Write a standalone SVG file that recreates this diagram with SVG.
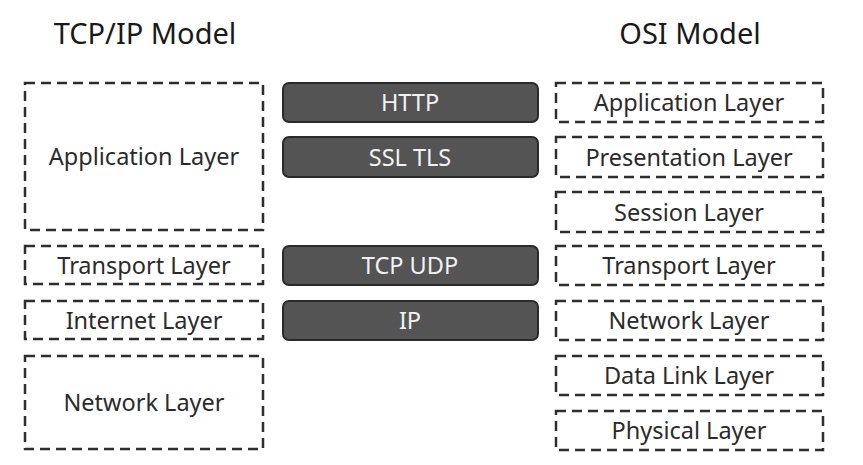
<svg xmlns="http://www.w3.org/2000/svg" width="863" height="465" viewBox="0 0 863 465">
<style>
.dash{fill:none;stroke:#2e2e2e;stroke-width:2.5;stroke-dasharray:10,6}
.proto{fill:#545454;stroke:#2a2a2a;stroke-width:2}
.t{font-family:"Noto Sans","Open Sans",sans-serif;font-size:23.5px;fill:#2b2b2b;text-anchor:middle}
.w{font-family:"Noto Sans","Open Sans",sans-serif;font-size:23.5px;fill:#f2f2f2;text-anchor:middle}
.h{font-family:"Noto Sans","Open Sans",sans-serif;font-size:29px;fill:#1a1a1a;text-anchor:middle}
</style>
<rect width="863" height="465" fill="#fff"/>
<g id="titles">
<text class="h" x="145" y="44">TCP/IP Model</text>
<text class="h" x="690" y="44">OSI Model</text>
</g>
<g id="tcpip">
<g id="tcp-app"><rect class="dash" x="25" y="83" width="238" height="147"/><text class="t" x="144" y="165">Application Layer</text></g>
<g id="tcp-transport"><rect class="dash" x="25" y="246" width="238" height="38"/><text class="t" x="144" y="273.5">Transport Layer</text></g>
<g id="tcp-internet"><rect class="dash" x="25" y="301" width="238" height="38"/><text class="t" x="144" y="328.5">Internet Layer</text></g>
<g id="tcp-network"><rect class="dash" x="25" y="356" width="238" height="93"/><text class="t" x="144" y="411">Network Layer</text></g>
</g>
<g id="protocols">
<g id="http"><rect class="proto" x="283" y="83" width="255" height="39" rx="6"/><text class="w" x="410" y="111">HTTP</text></g>
<g id="ssl"><rect class="proto" x="283" y="137" width="255" height="40" rx="6"/><text class="w" x="410" y="165.5">SSL TLS</text></g>
<g id="tcpudp"><rect class="proto" x="283" y="246" width="255" height="39" rx="6"/><text class="w" x="410" y="274">TCP UDP</text></g>
<g id="ip"><rect class="proto" x="283" y="301" width="255" height="39" rx="6"/><text class="w" x="410" y="329">IP</text></g>
</g>
<g id="osi">
<g id="osi-app"><rect class="dash" x="556" y="83" width="267" height="39"/><text class="t" x="689" y="111">Application Layer</text></g>
<g id="osi-pres"><rect class="dash" x="556" y="137" width="267" height="40"/><text class="t" x="689" y="165.5">Presentation Layer</text></g>
<g id="osi-session"><rect class="dash" x="556" y="192" width="267" height="40"/><text class="t" x="689" y="220.5">Session Layer</text></g>
<g id="osi-transport"><rect class="dash" x="556" y="246" width="267" height="39"/><text class="t" x="689" y="274">Transport Layer</text></g>
<g id="osi-network"><rect class="dash" x="556" y="301" width="267" height="39"/><text class="t" x="689" y="329">Network Layer</text></g>
<g id="osi-datalink"><rect class="dash" x="556" y="356" width="267" height="39"/><text class="t" x="689" y="384">Data Link Layer</text></g>
<g id="osi-physical"><rect class="dash" x="556" y="411" width="267" height="39"/><text class="t" x="689" y="439">Physical Layer</text></g>
</g>
<g id="connectors"></g>
</svg>
